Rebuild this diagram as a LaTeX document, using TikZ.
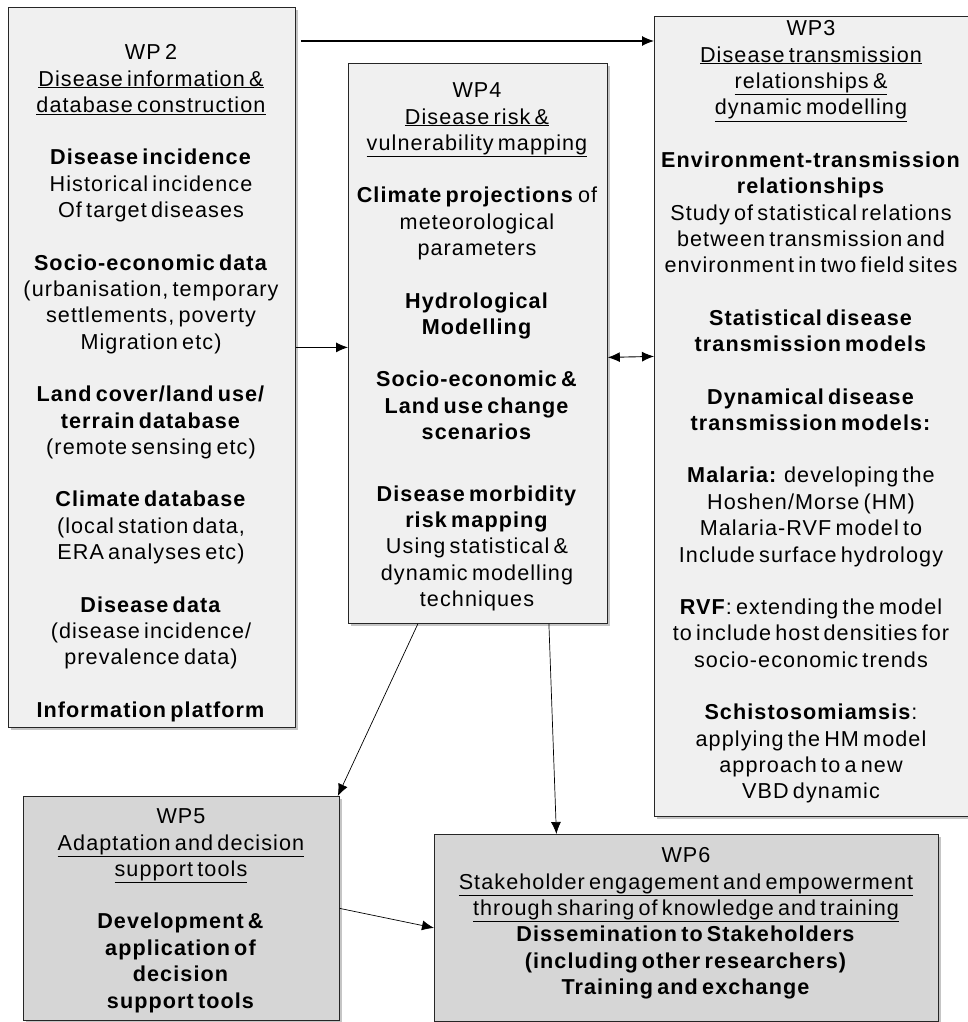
\documentclass[tikz,border=0pt]{standalone}
\usepackage{fontspec}
\setmainfont{Liberation Sans}[LetterSpace=5,WordSpace=0.6]
\usetikzlibrary{arrows.meta,shadows}
\colorlet{pale}{black!6}
\colorlet{grise}{black!16}
\tikzset{
  flow/.style={-{Latex[length=12pt,width=10pt]},line width=.9pt},
  flows/.style={{Latex[length=12pt,width=10pt]}-{Latex[length=12pt,width=10pt]},line width=.9pt},
  wpfont/.style={font=\fontsize{21.6}{26.4}\selectfont}
}
\begin{document}
\begin{tikzpicture}[x=1pt,y=-1pt]%
        \useasboundingbox (0,0) rectangle (968,1022);%%
        \begin{scope}[shape=rectangle,inner sep=0pt]
        \tikzstyle{every node}=[draw=black!85,line width=.8pt,anchor=north west,
          drop shadow={shadow xshift=3pt,shadow yshift=-3pt,fill=black!45,opacity=.5}] %%
        \node[fill=pale,minimum width=287pt,minimum height=720pt] (wp2) at (8,7) {}; %%
        \node[fill=pale,minimum width=259pt,minimum height=560pt] (wp4) at (348,63) {}; %%
        \node[fill=pale,minimum width=320pt,minimum height=800pt] (wp3) at (654,16) {}; %%
        \node[fill=grise,minimum width=316pt,minimum height=224pt] (wp5) at (23,796) {}; %%
        \node[fill=grise,minimum width=504pt,minimum height=187pt] (wp6) at (434,834) {}; %%
        \end{scope}
        \begin{scope}[inner sep=0pt,align=center]
        \tikzstyle{every node}=[wpfont,anchor=north] %%
        \node (t2) at (151,41) {\strut WP 2\\
          \underline{Disease information \&}\\
          \underline{database construction}\\[26pt]
          \textbf{Disease incidence}\\
          Historical incidence\\
          Of target diseases\\[26pt]
          \textbf{Socio-economic data}\\
          (urbanisation, temporary\\
          settlements, poverty\\
          Migration etc)\\[26pt]
          \textbf{Land cover/land use/}\\
          \textbf{terrain database}\\
          (remote sensing etc)\\[26pt]
          \textbf{Climate database}\\
          (local station data,\\
          ERA analyses etc)\\[26pt]
          \textbf{Disease data}\\
          (disease incidence/\\
          prevalence data)\\[26pt]
          \textbf{Information platform}}; %%
        \node (t4) at (477,79) {\strut WP4\\
          \underline{Disease risk \&}\\
          \underline{vulnerability mapping}\\[26pt]
          \textbf{Climate projections} of\\
          meteorological\\
          parameters\\[26pt]
          \textbf{Hydrological}\\
          \textbf{Modelling}\\[26pt]
          \textbf{Socio-economic \&}\\
          \textbf{Land use change}\\
          \textbf{scenarios}\\[35pt]
          \textbf{Disease morbidity}\\
          \textbf{risk mapping}\\
          Using statistical \&\\
          dynamic modelling\\
          techniques}; %%
        \node (t3) at (811,17) {\strut WP3\\
          \underline{Disease transmission}\\
          \underline{relationships \&}\\
          \underline{dynamic modelling}\\[26pt]
          \textbf{Environment-transmission}\\
          \textbf{relationships}\\
          Study of statistical relations\\
          between transmission and\\
          environment in two field sites\\[26pt]
          \textbf{Statistical disease}\\
          \textbf{transmission models}\\[26pt]
          \textbf{Dynamical disease}\\
          \textbf{transmission models:}\\[26pt]
          \textbf{Malaria:} developing the\\
          Hoshen/Morse (HM)\\
          Malaria-RVF model to\\
          Include surface hydrology\\[26pt]
          \textbf{RVF}: extending the model\\
          to include host densities for\\
          socio-economic trends\\[26pt]
          \textbf{Schistosomiamsis}:\\
          applying the HM model\\
          approach to a new\\
          VBD dynamic}; %%
        \node (t5) at (181,805) {\strut WP5\\
          \underline{Adaptation and decision}\\
          \underline{support tools}\\[26pt]
          \textbf{Development \&}\\
          \textbf{application of}\\
          \textbf{decision}\\
          \textbf{support tools}}; %%
        \node (t6) at (686,844) {\strut WP6\\
          \underline{Stakeholder engagement and empowerment}\\
          \underline{through sharing of knowledge and training}\\
          \textbf{Dissemination to Stakeholders}\\
          \textbf{(including other researchers)}\\
          \textbf{Training and exchange}}; %%
        \end{scope}
        \draw[flow,line width=1.1pt] ([xshift=5pt,yshift=-34pt]wp2.north east)--([yshift=-25pt]wp3.north west); %%
        \draw[flow] ([yshift=20pt]wp2.east)--([yshift=-4pt]wp4.west); %%
        \draw[flows] ([yshift=-14pt]wp4.east)--([yshift=60pt]wp3.west); %%
        \draw[flow,line width=.7pt] ([xshift=-60pt]wp4.south)--([xshift=-2pt]wp5.north east); %%
        \draw[flow,line width=.7pt] ([xshift=71pt]wp4.south)--([xshift=-130pt]wp6.north); %%
        \draw[flow,line width=.7pt] (wp5.east)--(wp6.west); %%
\end{tikzpicture}
\end{document}
